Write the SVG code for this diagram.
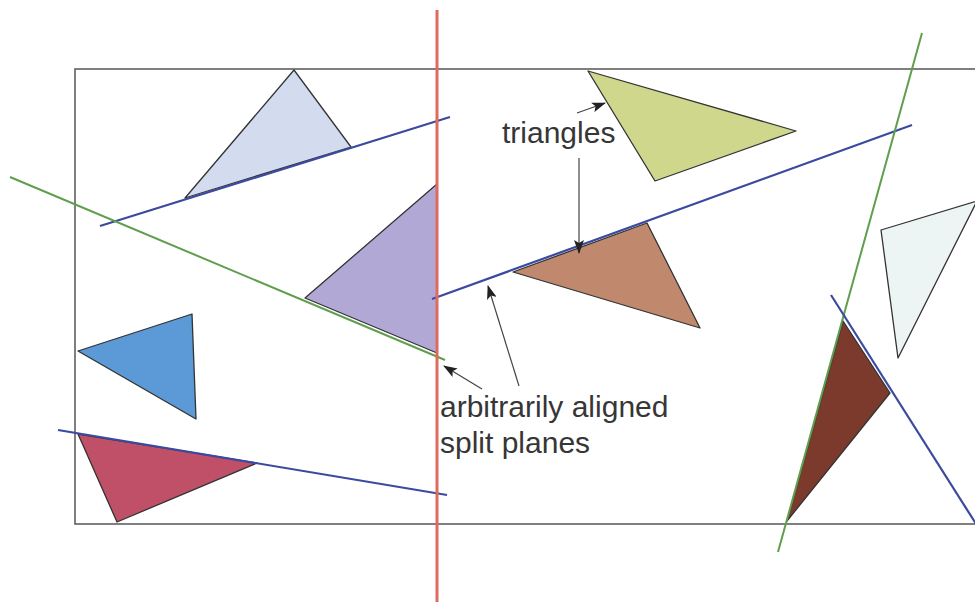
<svg xmlns="http://www.w3.org/2000/svg" width="975" height="602" viewBox="0 0 975 602">
<style>
.tri{stroke:#333;stroke-width:1.3;stroke-linejoin:round}
.blue{stroke:#3b4a9e;stroke-width:2.2;fill:none}
.green{stroke:#5f9e4c;stroke-width:2;fill:none}
.red{stroke:#e06a5e;stroke-width:3;fill:none}
.lbl{font-family:"Liberation Sans",Arial,sans-serif;font-size:30px;fill:#363636}
.arr{stroke:#444;stroke-width:1.2;fill:none;marker-end:url(#ah)}
</style>
<defs>
<marker id="ah" viewBox="0 0 14 10" refX="13" refY="5" markerWidth="14" markerHeight="10" markerUnits="userSpaceOnUse" orient="auto">
<path d="M0,0 L14,5 L0,10 L3,5 Z" fill="#222"/>
</marker>
</defs>
<rect width="975" height="602" fill="#fff"/>
<rect id="bounds" x="75" y="69" width="920" height="455" fill="none" stroke="#555" stroke-width="1.5"/>
<g id="tri-lightblue"><polygon class="tri" points="294,70 351,147 185,198" fill="#d3dcef"/></g>
<g id="tri-purple"><polygon class="tri" points="305,298 437,184 437,353" fill="#b2a8d6"/></g>
<g id="tri-blue"><polygon class="tri" points="78,351 192,314 196,419" fill="#5b9ad6"/></g>
<g id="tri-red"><polygon class="tri" points="78,434 257,463 117,522" fill="#c04f68"/></g>
<g id="tri-yellow"><polygon class="tri" points="588,71 796,131 655,181" fill="#ced78b"/></g>
<g id="tri-brown"><polygon class="tri" points="513,272 647,223 700,328" fill="#c0896e"/></g>
<g id="tri-pale"><polygon class="tri" points="881,230 977,201 898,358" fill="#edf4f4"/></g>
<g id="tri-darkbrown"><polygon class="tri" points="843,321 890,393 787,521" fill="#7b3a2c"/></g>
<g id="planes">
<line class="blue" x1="100" y1="226" x2="450" y2="117"/>
<line class="green" x1="10" y1="177" x2="445" y2="360"/>
<line class="blue" x1="58" y1="430" x2="447" y2="495"/>
<line class="blue" x1="432" y1="299" x2="912" y2="125"/>
<line class="green" x1="778" y1="552" x2="922" y2="33"/>
<line class="blue" x1="831" y1="295" x2="978" y2="527"/>
<line class="red" x1="437" y1="10" x2="437" y2="602"/>
</g>
<g id="connectors">
<line class="arr" x1="577" y1="113" x2="605" y2="103"/>
<line class="arr" x1="579" y1="158" x2="579" y2="253"/>
<line class="arr" x1="519" y1="386" x2="488" y2="286"/>
<line class="arr" x1="482" y1="389" x2="444" y2="366"/>
</g>
<g id="labels">
<text class="lbl" x="502" y="143">triangles</text>
<text class="lbl" x="440" y="417">arbitrarily aligned</text>
<text class="lbl" x="440" y="453">split planes</text>
</g>
</svg>
